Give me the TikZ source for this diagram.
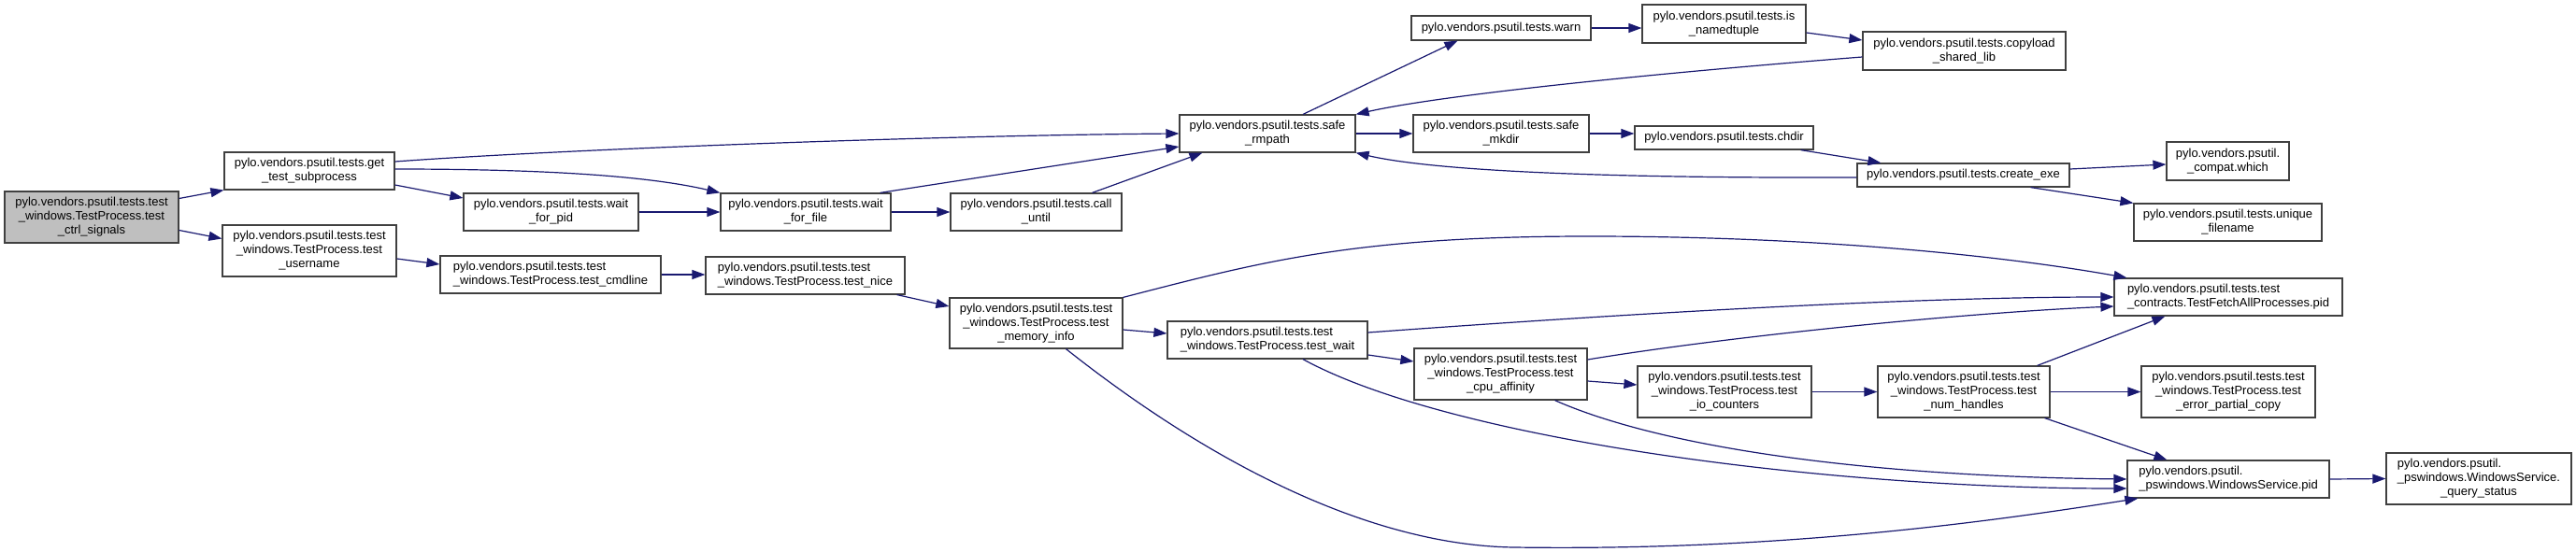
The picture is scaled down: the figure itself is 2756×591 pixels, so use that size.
\documentclass[tikz,border=0pt]{standalone}
\usepackage{fontspec}
\setmainfont{Liberation Sans}
\definecolor{dxedge}{RGB}{25,25,112}
\definecolor{dxframe}{RGB}{64,64,64}
\definecolor{dxroot}{RGB}{191,191,191}
\usetikzlibrary{arrows.meta}

\begin{document}
\begin{tikzpicture}[x=1pt, y=-1pt,
    fn/.style={rectangle, draw=dxframe, line width=1.2pt, fill=white, inner sep=0pt,
      align=center, font=\fontsize{13}{15}\selectfont},
    fnl/.style={fn, align=left},
    callarrow/.style={-{Triangle[length=14pt, width=10pt]}, line width=1.2pt, dxedge}
  ]
    \useasboundingbox (0,0) rectangle (2756,591);

    % Caller
    \node[fn, fill=dxroot, minimum width=186pt, minimum height=55pt] (root) at (98,232.5)
      {pylo.vendors.psutil.tests.test\\\_windows.TestProcess.test\\\_ctrl\_signals};

    % Second column
    \node[fn, minimum width=182pt, minimum height=40pt] (gts) at (331,183)
      {pylo.vendors.psutil.tests.get\\\_test\_subprocess};
    \node[fn, minimum width=186pt, minimum height=55pt] (un) at (331,268.5)
      {pylo.vendors.psutil.tests.test\\\_windows.TestProcess.test\\\_username};

    % Third and fourth columns
    \node[fn, minimum width=187pt, minimum height=40pt] (wfp) at (589.5,227)
      {pylo.vendors.psutil.tests.wait\\\_for\_pid};
    \node[fnl, minimum width=236pt, minimum height=40pt] (cmd) at (589,294)
      {pylo.vendors.psutil.tests.test\\\_windows.TestProcess.test\_cmdline};
    \node[fn, minimum width=182pt, minimum height=40pt] (wff) at (862,227)
      {pylo.vendors.psutil.tests.wait\\\_for\_file};
    \node[fnl, minimum width=213pt, minimum height=40pt] (nice) at (861.5,295)
      {pylo.vendors.psutil.tests.test\\\_windows.TestProcess.test\_nice};

    % Middle
    \node[fn, minimum width=183pt, minimum height=40pt] (callu) at (1108.5,227)
      {pylo.vendors.psutil.tests.call\\\_until};
    \node[fn, minimum width=185pt, minimum height=54pt] (mem) at (1108.5,346)
      {pylo.vendors.psutil.tests.test\\\_windows.TestProcess.test\\\_memory\_info};
    \node[fn, minimum width=188pt, minimum height=40pt] (rmp) at (1356,143)
      {pylo.vendors.psutil.tests.safe\\\_rmpath};
    \node[fnl, minimum width=214pt, minimum height=40pt] (wait) at (1356,364)
      {pylo.vendors.psutil.tests.test\\\_windows.TestProcess.test\_wait};
    \node[fn, minimum width=192pt, minimum height=26pt] (warn) at (1606,30)
      {pylo.vendors.psutil.tests.warn};
    \node[fn, minimum width=188pt, minimum height=40pt] (mkdir) at (1606,143)
      {pylo.vendors.psutil.tests.safe\\\_mkdir};
    \node[fn, minimum width=185pt, minimum height=55pt] (cpu) at (1605.5,400.5)
      {pylo.vendors.psutil.tests.test\\\_windows.TestProcess.test\\\_cpu\_affinity};
    \node[fn, minimum width=175pt, minimum height=41pt] (isnt) at (1844.5,25.5)
      {pylo.vendors.psutil.tests.is\\\_namedtuple};
    \node[fn, minimum width=191pt, minimum height=25pt] (chdir) at (1844.5,147.5)
      {pylo.vendors.psutil.tests.chdir};
    \node[fn, minimum width=186pt, minimum height=55pt] (io) at (1845,419.5)
      {pylo.vendors.psutil.tests.test\\\_windows.TestProcess.test\\\_io\_counters};
    \node[fn, minimum width=217pt, minimum height=41pt] (copy) at (2101.5,54.5)
      {pylo.vendors.psutil.tests.copyload\\\_shared\_lib};
    \node[fn, minimum width=227pt, minimum height=25pt] (cexe) at (2100.5,187.5)
      {pylo.vendors.psutil.tests.create\_exe};
    \node[fn, minimum width=184pt, minimum height=55pt] (nh) at (2101,419.5)
      {pylo.vendors.psutil.tests.test\\\_windows.TestProcess.test\\\_num\_handles};

    % Right columns
    \node[fn, minimum width=131pt, minimum height=41pt] (which) at (2383.5,172.5)
      {pylo.vendors.psutil.\\\_compat.which};
    \node[fn, minimum width=201pt, minimum height=40pt] (uniq) at (2383.5,238)
      {pylo.vendors.psutil.tests.unique\\\_filename};
    \node[fnl, minimum width=244pt, minimum height=40pt] (tfap) at (2384,318)
      {pylo.vendors.psutil.tests.test\\\_contracts.TestFetchAllProcesses.pid};
    \node[fn, minimum width=186pt, minimum height=55pt] (epc) at (2384,419.5)
      {pylo.vendors.psutil.tests.test\\\_windows.TestProcess.test\\\_error\_partial\_copy};
    \node[fnl, minimum width=216pt, minimum height=40pt] (wsp) at (2384,513)
      {pylo.vendors.psutil.\\\_pswindows.WindowsService.pid};
    \node[fn, minimum width=198pt, minimum height=55pt] (qs) at (2652,512.5)
      {\begin{tabular}{@{}l@{}}pylo.vendors.psutil.\\\_pswindows.WindowsService.\\
       \multicolumn{1}{@{}c@{}}{\_query\_status}\end{tabular}};

    % Calls
    \draw[callarrow] ([yshift=20pt]root.east) -- (gts.south west);
    \draw[callarrow] ([yshift=-14pt]root.east) -- ([yshift=13pt]un.west);
    \draw[callarrow] ([yshift=10pt]gts.east) .. controls (600,160) and (1000,145) .. (rmp.west);
    \draw[callarrow] ([yshift=2pt]gts.east) .. controls (600,181) and (700,190) .. (wff.north west);
    \draw[callarrow] ([yshift=-15pt]gts.east) -- ([yshift=15pt]wfp.west);
    \draw[callarrow] (wfp.east) -- (wff.west);
    \draw[callarrow] ([xshift=-12pt]wff.north east) -- ([yshift=-14pt]rmp.west);
    \draw[callarrow] (wff.east) -- (callu.west);
    \draw[callarrow] ([xshift=60pt]callu.north) -- ([xshift=25pt]rmp.south west);
    \draw[callarrow] ([xshift=38pt]rmp.north) -- ([xshift=50pt]warn.south west);
    \draw[callarrow] (warn.east) -- (warn.east -| isnt.west);
    \draw[callarrow] ([yshift=-9.5pt]isnt.east) -- ([yshift=11.5pt]copy.west);
    \draw[callarrow] ([yshift=-6.5pt]copy.west) .. controls (1800,76) and (1550,100) .. (rmp.north east);
    \draw[callarrow] (rmp.east) -- (mkdir.west);
    \draw[callarrow] (mkdir.east) -- (mkdir.east -| chdir.west);
    \draw[callarrow] ([xshift=-14pt]chdir.south east) -- ([xshift=26pt]cexe.north west);
    \draw[callarrow] ([yshift=-2.5pt]cexe.west) .. controls (1700,191) and (1530,182) .. (rmp.south east);
    \draw[callarrow] ([yshift=6.5pt]cexe.east) -- ([yshift=-3.5pt]which.west);
    \draw[callarrow] ([xshift=72pt]cexe.south) -- (uniq.north west);
    \draw[callarrow] ([yshift=-8.5pt]un.east) -- ([yshift=11pt]cmd.west);
    \draw[callarrow] (cmd.east) -- (cmd.east -| nice.west);
    \draw[callarrow] ([xshift=-9pt]nice.south east) -- ([yshift=18pt]mem.west);
    \draw[callarrow] (mem.north east) .. controls (1350,280) and (1450,253) .. (1700,253)
      .. controls (1950,253) and (2150,275) .. ([xshift=14pt]tfap.north west);
    \draw[callarrow] ([yshift=-7pt]mem.east) -- ([yshift=7pt]wait.west);
    \draw[callarrow] ([xshift=32pt]mem.south) .. controls (1300,500) and (1470,584) .. (1620,586)
      .. controls (1900,590) and (2120,560) .. ([xshift=12pt]wsp.south west);
    \draw[callarrow] ([yshift=8pt]wait.east) .. controls (1750,335) and (2050,318) .. (tfap.west);
    \draw[callarrow] ([yshift=-16pt]wait.east) -- ([yshift=13.5pt]cpu.west);
    \draw[callarrow] ([xshift=38pt]wait.south) .. controls (1550,470) and (1950,523) .. ([yshift=-10pt]wsp.west);
    \draw[callarrow] ([yshift=15.5pt]cpu.east) .. controls (1850,360) and (2100,335) .. ([yshift=-10pt]tfap.west);
    \draw[callarrow] ([yshift=-7.5pt]cpu.east) -- ([yshift=7.5pt]io.west);
    \draw[callarrow] ([xshift=58pt]cpu.south) .. controls (1780,480) and (2000,510) .. (wsp.west);
    \draw[callarrow] (io.east) -- (nh.west);
    \draw[callarrow] ([xshift=-14pt]nh.north east) -- ([xshift=55pt]tfap.south west);
    \draw[callarrow] (nh.east) -- (epc.west);
    \draw[callarrow] ([xshift=-6pt]nh.south east) -- ([xshift=43pt]wsp.north west);
    \draw[callarrow] (wsp.east) -- (qs.west);
\end{tikzpicture}
\end{document}
